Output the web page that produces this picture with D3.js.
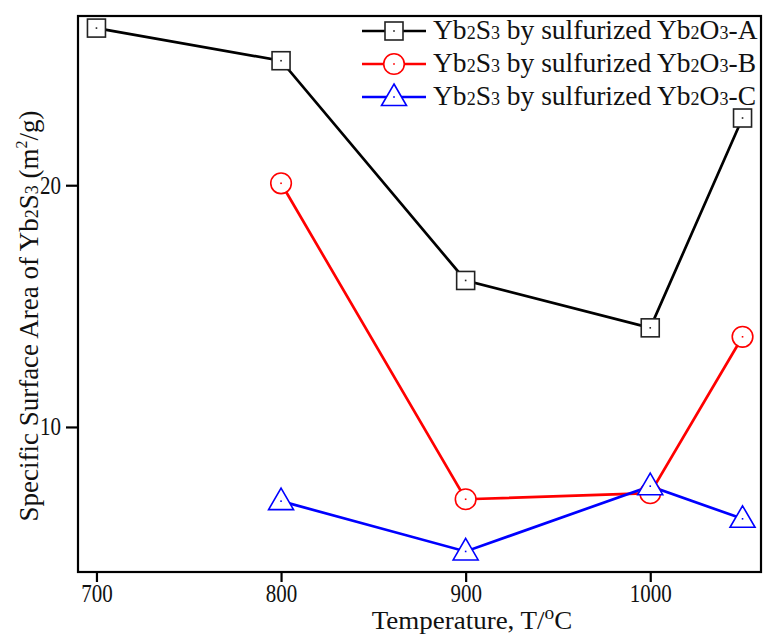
<!DOCTYPE html>
<html><head><meta charset="utf-8">
<script src="https://cdn.jsdelivr.net/npm/d3@7/dist/d3.min.js"></script>
<style>body{margin:0;background:#fff}svg{display:block}text{font-family:"Liberation Serif","Times New Roman",serif;fill:#111}</style>
</head><body><svg id="c" width="764" height="635"></svg>
<script>
const temps = [700, 800, 900, 1000, 1050];
const seriesNames = ["A", "B", "C"];
const valuesA = [26.5, 25.15, 16.06, 14.1, 22.78];
const valuesB = [null, 20.08, 7.01, 7.26, 13.73];
const valuesC = [null, 6.93, 4.85, 7.55, 6.2];
const xTicks = [700, 800, 900, 1000];
const yTicks = [10, 20];
const colors = ["#000000", "#ff0000", "#0000ff"];
const shapes = ["square", "circle", "triangle"];

const svg = d3.select("#c");
const L = 78, R = 761, T = 16, B = 572;
const x = d3.scaleLinear().domain([690, 1060]).range([L, R]);
const y = d3.scaleLinear().domain([4, 27]).range([B, T]);

// axes
const xAxis = svg.append("g").attr("transform", `translate(0,${B})`)
  .call(d3.axisBottom(x).tickValues(xTicks).tickSize(10).tickFormat(d3.format("d")));
const yAxis = svg.append("g").attr("transform", `translate(${L},0)`)
  .call(d3.axisLeft(y).tickValues(yTicks).tickSize(12).tickFormat(d3.format("d")));
[xAxis, yAxis].forEach(g => {
  g.select(".domain").remove();
  g.selectAll(".tick line").attr("stroke", "#000").attr("stroke-width", 2.2);
  g.selectAll(".tick text").style("font-family", '"Liberation Serif",serif').style("font-size", "21px").attr("fill", "#111");
});
xAxis.selectAll(".tick text").attr("y", 0).attr("dy", 0).attr("transform", "translate(0,29.5) scale(1,1.15)");
yAxis.selectAll(".tick text").attr("x", 0).attr("dy", 0).attr("transform", "translate(-17,8) scale(1,1.2)");
// frame
svg.append("rect").attr("x", L).attr("y", T).attr("width", R - L).attr("height", B - T)
  .attr("fill", "none").attr("stroke", "#000").attr("stroke-width", 2.2);

const all = [valuesA, valuesB, valuesC];
const line = d3.line().defined(d => d[1] != null).x(d => x(d[0])).y(d => y(d[1]));

function drawMarker(g, shape, color, cx, cy) {
  if (shape === "square") {
    g.append("rect").attr("x", cx - 9).attr("y", cy - 9).attr("width", 18).attr("height", 18)
      .attr("fill", "#fff").attr("stroke", "#222").attr("stroke-width", 1.6);
  } else if (shape === "circle") {
    g.append("circle").attr("cx", cx).attr("cy", cy).attr("r", 10.3)
      .attr("fill", "#fff").attr("stroke", color).attr("stroke-width", 1.6);
  } else {
    const s = 12.5;
    g.append("path").attr("d", `M${cx},${cy - 13}L${cx + s},${cy + 8.5}L${cx - s},${cy + 8.5}Z`)
      .attr("fill", "#fff").attr("stroke", color).attr("stroke-width", 1.6);
  }
  g.append("rect").attr("x", cx - 0.8).attr("y", cy - 0.8).attr("width", 1.6).attr("height", 1.6).attr("fill", color === "#000000" ? "#222" : color);
}

all.forEach((vals, i) => {
  const pts = temps.map((t, j) => [t, vals[j]]);
  svg.append("path").datum(pts).attr("d", line).attr("fill", "none")
    .attr("stroke", colors[i]).attr("stroke-width", 2.7);
});
all.forEach((vals, i) => {
  const g = svg.append("g");
  temps.forEach((t, j) => {
    if (vals[j] != null) drawMarker(g, shapes[i], colors[i], x(t), y(vals[j]));
  });
});

// legend
const legY = [31, 64, 97];
seriesNames.forEach((n, i) => {
  const g = svg.append("g");
  g.append("line").attr("x1", 362).attr("x2", 426).attr("y1", legY[i]).attr("y2", legY[i])
    .attr("stroke", colors[i]).attr("stroke-width", 2.7);
  drawMarker(g, shapes[i], colors[i], 394, legY[i]);
  const t = g.append("text").attr("x", 433).attr("y", legY[i] + 8).style("font-size", "27.5px");
  t.append("tspan").text("Yb");
  t.append("tspan").text("2").style("font-size", "18px");
  t.append("tspan").text("S");
  t.append("tspan").text("3").style("font-size", "18px");
  t.append("tspan").text(" by sulfurized Yb");
  t.append("tspan").text("2").style("font-size", "18px");
  t.append("tspan").text("O");
  t.append("tspan").text("3").style("font-size", "18px");
  t.append("tspan").text("-" + n);
});

// axis titles
const xt = svg.append("text").attr("transform", "translate(472,629) scale(1.08,1)").attr("text-anchor", "middle").style("font-size", "25px");
xt.append("tspan").text("Temperature, T/");
xt.append("tspan").text("o").style("font-size", "18px").attr("dy", "-10");
xt.append("tspan").text("C").attr("dy", "10");

const yt = svg.append("text").attr("transform", "translate(38,316) rotate(-90)").attr("text-anchor", "middle").style("font-size", "27px");
yt.append("tspan").text("Specific Surface Area of Yb");
yt.append("tspan").text("2").style("font-size", "18px");
yt.append("tspan").text("S");
yt.append("tspan").text("3").style("font-size", "18px");
yt.append("tspan").text(" (m");
yt.append("tspan").text("2").style("font-size", "16px").attr("dy", "-11");
yt.append("tspan").text("/g)").attr("dy", "11");
</script></body></html>
